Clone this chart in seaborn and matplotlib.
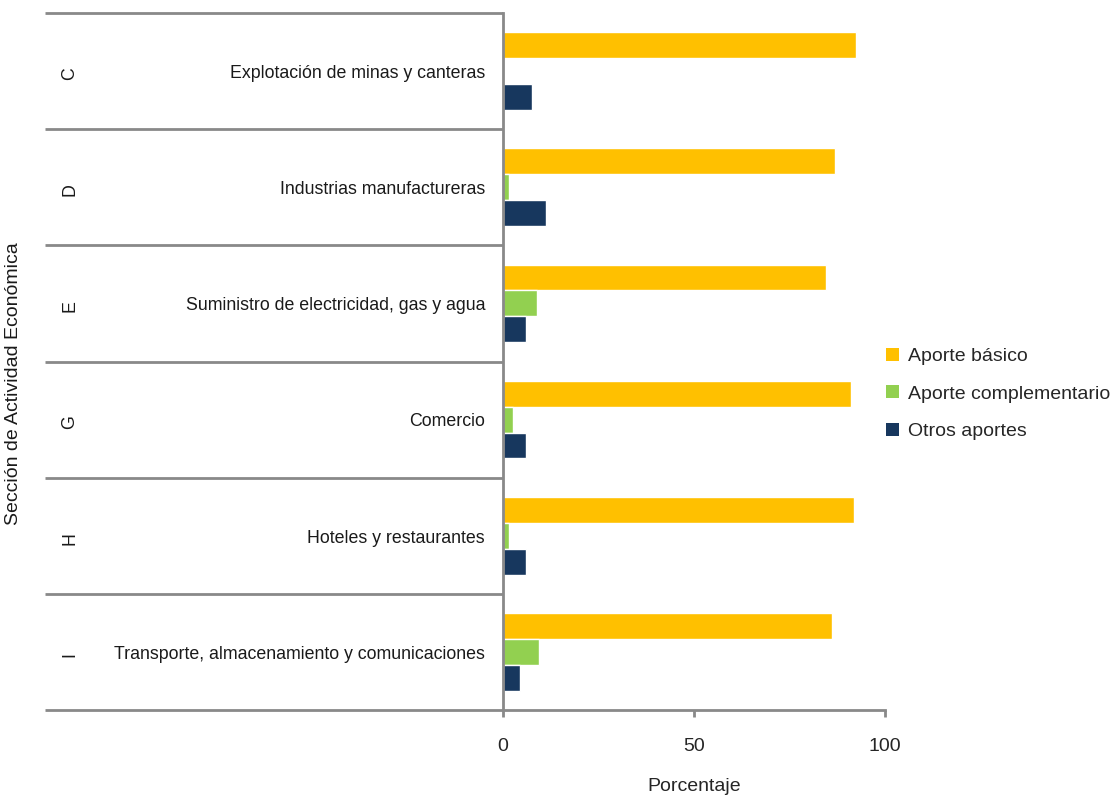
import pandas as pd
import matplotlib.pyplot as plt
import seaborn as sns
from matplotlib.patches import Patch

# Datos (porcentajes)
codigos = ["C", "D", "E", "G", "H", "I"]
secciones = [
    "Explotación de minas y canteras",
    "Industrias manufactureras",
    "Suministro de electricidad, gas y agua",
    "Comercio",
    "Hoteles y restaurantes",
    "Transporte, almacenamiento y comunicaciones",
]
aporte_basico = [92.5, 87.0, 84.6, 91.0, 92.0, 86.0]
aporte_complementario = [0.0, 1.6, 8.9, 2.5, 1.6, 9.3]
otros_aportes = [7.5, 11.2, 6.1, 6.1, 6.1, 4.4]

tipos = ["Aporte básico", "Aporte complementario", "Otros aportes"]
colores = ["#FFC000", "#92D050", "#17375E"]
gris = "#898989"

# Tabla larga para seaborn
filas = []
for serie, valores in zip(tipos, [aporte_basico, aporte_complementario, otros_aportes]):
    for sec, v in zip(secciones, valores):
        filas.append({"seccion": sec, "tipo": serie, "valor": v})
df = pd.DataFrame(filas)

sns.set_theme(style="white")
plt.rcParams["font.family"] = ["Liberation Sans", "DejaVu Sans"]

fig = plt.figure(figsize=(11.14, 7.98), dpi=100)
ax = fig.add_axes([503 / 1114, 1 - 710 / 798, 382 / 1114, 697 / 798])

sns.barplot(
    data=df, x="valor", y="seccion", hue="tipo", orient="h",
    order=secciones, hue_order=tipos, palette=colores,
    width=0.67, saturation=1, ax=ax, legend=False,
)

ax.set_xlim(0, 100)
ax.set_ylim(len(secciones) - 0.5, -0.5)
ax.set_xticks([0, 50, 100])
ax.set_yticks([])
ax.tick_params(axis="x", direction="out", length=5, width=2, color=gris,
               labelsize=14, pad=15, bottom=True)
ax.set_xlabel("Porcentaje", fontsize=14, labelpad=17)
ax.set_ylabel("")

for lado in ["top", "right"]:
    ax.spines[lado].set_visible(False)
for lado in ["left", "bottom"]:
    ax.spines[lado].set_color(gris)
    ax.spines[lado].set_linewidth(2)

# Separadores de categorías y etiquetas de varios niveles
trans = ax.get_yaxis_transform()
x_izq = (45 - 503) / 382
for i in range(len(secciones) + 1):
    ax.plot([x_izq, 0], [i - 0.5, i - 0.5], transform=trans, color=gris,
            lw=2, clip_on=False, solid_capstyle="butt")
for i, (cod, sec) in enumerate(zip(codigos, secciones)):
    ax.text(-0.047, i + 0.02, sec, transform=trans, ha="right", va="center",
            fontsize=12.8, color="#1a1a1a")
    ax.text((70 - 503) / 382, i + 0.02, cod, transform=trans, ha="center",
            va="center", rotation=90, fontsize=12.8, color="#1a1a1a")

fig.text(14 / 1114, 1 - 384 / 798, "Sección de Actividad Económica",
         rotation=90, ha="center", va="center", fontsize=14, color="#1a1a1a")

# Leyenda
handles = [Patch(facecolor=c, edgecolor="none") for c in colores]
fig.legend(handles, tipos, loc="center left", bbox_to_anchor=(886 / 1114, 1 - 394 / 798),
           frameon=False, fontsize=14, handlelength=0.65, handleheight=0.65,
           handletextpad=0.5, labelspacing=1.05, borderaxespad=0, borderpad=0)

fig.savefig("out.png", dpi=100)
